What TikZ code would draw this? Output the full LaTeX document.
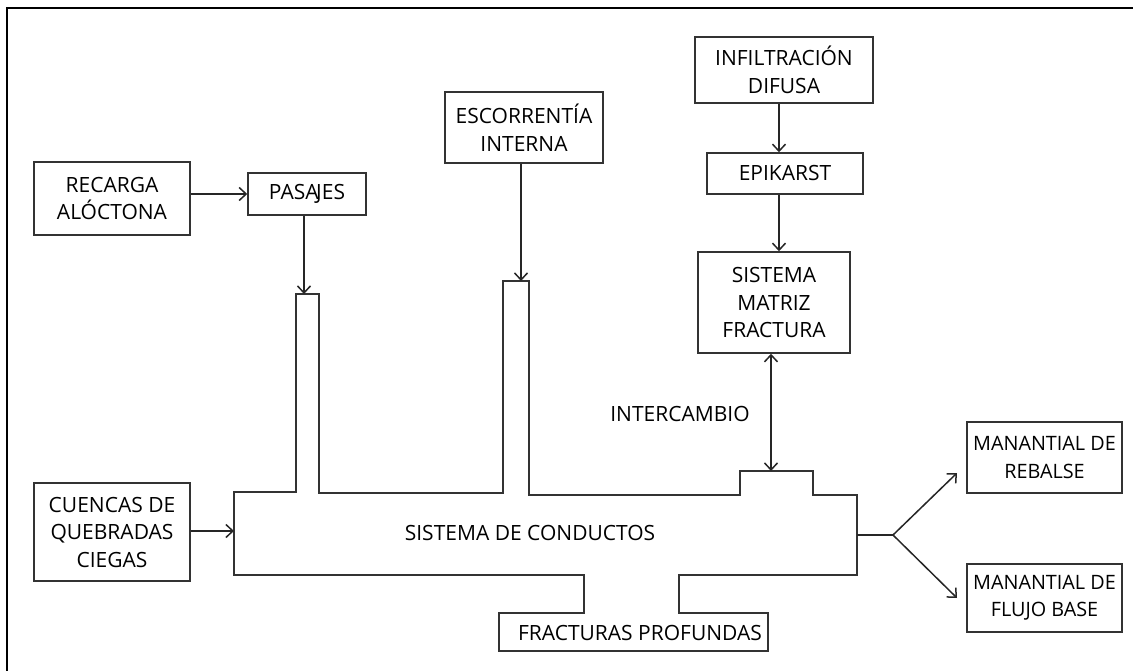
\documentclass[tikz,border=0pt]{standalone}
\usepackage{fontspec}
\setmainfont{Open Sans}
\usetikzlibrary{arrows.meta}
\begin{document}
\begin{tikzpicture}[x=1pt,y=-1pt,
  box/.style={draw=black!80,line width=1.5pt,rectangle,inner sep=0pt,align=center,
    font=\fontsize{21}{27.5}\selectfont},
  smallbox/.style={box,font=\fontsize{19.8}{27.5}\selectfont},
  lbl/.style={inner sep=0pt,font=\fontsize{21}{27.5}\selectfont},
  arr/.style={draw=black!85,line width=1.5pt,-{Straight Barb[length=7pt,width=13pt,line width=1.5pt]}},
  darr/.style={draw=black!85,line width=1.5pt,{Straight Barb[length=7pt,width=13pt,line width=1.5pt]}-{Straight Barb[length=7pt,width=13pt,line width=1.5pt]}},
  ln/.style={draw=black!85,line width=1.5pt},
  conduit/.style={draw=black!80,line width=1.5pt,line join=miter}]
\useasboundingbox (0,0) rectangle (1133,671);
% frame (only top and left edges visible)
\draw[black,line width=2pt] (7,671) -- (7,8) -- (1133,8);

% boxes
\node[box,minimum width=156pt,minimum height=73pt] (recarga) at (112,198.5) {RECARGA\\ALÓCTONA};
\node[box,minimum width=118pt,minimum height=42pt] (pasajes) at (307,194) {PASA\kern-2.5pt JES};
\node[box,minimum width=158pt,minimum height=71pt] (escor) at (524,127.5) {ESCORRENTÍA\\INTERNA};
\node[box,minimum width=178pt,minimum height=66pt] (infil) at (784,70) {INFILTRACIÓN\\DIFUSA};
\node[box,minimum width=156pt,minimum height=41pt] (epik) at (785,173.5) {EPIKARST};
\node[box,minimum width=152pt,minimum height=101pt] (smf) at (774,302.5) {SISTEMA\\MATRIZ\\FRACTURA};
\node[box,minimum width=156pt,minimum height=98pt] (cuencas) at (112,532) {CUENCAS DE\\QUEBRADAS\\CIEGAS};
\node[smallbox,minimum width=155pt,minimum height=71pt] (rebalse) at (1044.5,457.5) {MANANTIAL DE\\REBALSE};
\node[smallbox,minimum width=155pt,minimum height=68pt] (flujo) at (1044.5,598) {MANANTIAL DE\\FLUJO BASE};

% conduit system outline
\draw[conduit] (234,492) -- (296,492) -- (296,294) -- (319,294) -- (319,493)
  -- (503,493) -- (503,281) -- (529,281) -- (529,495) -- (740,495) -- (740,471)
  -- (813,471) -- (813,495) -- (857,495) -- (857,575) -- (679,575) -- (679,613)
  -- (768,613) -- (768,651) -- (499,651) -- (499,613) -- (584,613) -- (584,575)
  -- (234,575) -- cycle;
\node[lbl] (sdc) at (530,533) {SISTEMA DE CONDUCTOS};
\node[lbl] (fp) at (640,633) {FRACTURAS PROFUNDAS};
\node[lbl] (inter) at (680,414) {INTERCAMBIO};

% named points on the conduit outline
\coordinate (s1) at (304,294);
\coordinate (s2) at (521,281);
\coordinate (bump) at (771,471);
\coordinate (cin) at (234,531);
\coordinate (cout) at (857,535);
\coordinate (fork) at (893,535);
\coordinate (ra) at (957,473);
\coordinate (fa) at (957,598);
\coordinate (col) at (779,0);

% connectors
\draw[arr] (pasajes.west -| recarga.east) -- (pasajes.west);
\draw[arr] (pasajes.south -| s1) -- (s1);
\draw[arr] (escor.south -| s2) -- (s2);
\draw[arr] (infil.south -| col) -- (epik.north -| col);
\draw[arr] (epik.south -| col) -- (smf.north -| col);
\draw[darr] (smf.south -| bump) -- (bump);
\draw[arr] (cuencas.east |- cin) -- (cin);
\draw[ln] (cout) -- (fork);
\draw[arr] (fork) -- (ra);
\draw[arr] (fork) -- (fa);
\end{tikzpicture}
\end{document}
